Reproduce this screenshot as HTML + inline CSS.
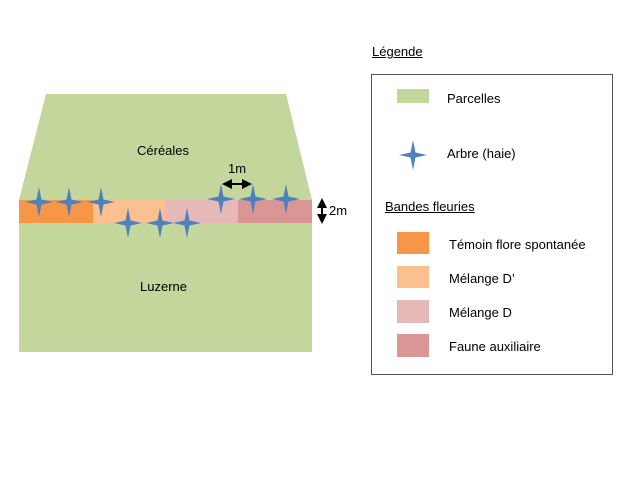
<html><body style="margin:0;width:640px;height:480px;background:#fff;position:relative;font-family:'Liberation Sans',sans-serif;">
<svg width="640" height="480" style="position:absolute;left:0;top:0">
<defs>
<path id="s" d="M0,-15 L2.5,-2.5 L14,0 L2.5,2.5 L0,15 L-2.5,2.5 L-14,0 L-2.5,-2.5Z" fill="#4f81bd"/>
<marker id="a" viewBox="0 0 10 10" refX="8" refY="5" markerWidth="5" markerHeight="5" orient="auto-start-reverse"><path d="M0,0L10,5L0,10Z" fill="#000"/></marker>
</defs>
<polygon points="46,94 286,94 312,200 19,200" fill="#c3d69b"/>
<rect x="19" y="223" width="293" height="129" fill="#c3d69b"/>
<rect x="19" y="200" width="74" height="23" fill="#f79646"/>
<rect x="93" y="200" width="72" height="23" fill="#fac090"/>
<rect x="165" y="200" width="73" height="23" fill="#e6b9b8"/>
<rect x="238" y="200" width="74" height="23" fill="#d99694"/>
<g>
<use href="#s" x="39" y="202"/><use href="#s" x="69" y="202"/><use href="#s" x="101" y="202"/>
<use href="#s" x="221" y="199"/><use href="#s" x="253" y="199"/><use href="#s" x="286" y="199"/>
<use href="#s" x="128" y="223"/><use href="#s" x="160" y="223"/><use href="#s" x="187" y="223"/>
</g>
<line x1="224" y1="184" x2="250" y2="184" stroke="#000" stroke-width="2" marker-start="url(#a)" marker-end="url(#a)"/>
<line x1="322" y1="200" x2="322" y2="222" stroke="#000" stroke-width="2" marker-start="url(#a)" marker-end="url(#a)"/>
<rect x="371.5" y="74.5" width="241" height="300" fill="none" stroke="#555"/>
<rect x="397" y="89" width="32" height="14" fill="#c3d69b"/>
<use href="#s" x="413" y="155"/>
<rect x="397" y="232" width="32" height="22" fill="#f79646"/>
<rect x="397" y="266" width="32" height="22" fill="#fac090"/>
<rect x="397" y="300" width="32" height="23" fill="#e6b9b8"/>
<rect x="397" y="334" width="32" height="23" fill="#d99694"/>
</svg>
<div style="position:absolute;font-size:13px;color:#000;">
<div style="position:absolute;left:137px;top:143px;white-space:nowrap">Céréales</div>
<div style="position:absolute;left:140px;top:279px;white-space:nowrap">Luzerne</div>
<div style="position:absolute;left:228px;top:161px;white-space:nowrap">1m</div>
<div style="position:absolute;left:329px;top:203px;white-space:nowrap">2m</div>
<div style="position:absolute;left:372px;top:44px;white-space:nowrap;text-decoration:underline">Légende</div>
<div style="position:absolute;left:447px;top:91px;white-space:nowrap">Parcelles</div>
<div style="position:absolute;left:447px;top:146px;white-space:nowrap">Arbre (haie)</div>
<div style="position:absolute;left:385px;top:199px;white-space:nowrap;text-decoration:underline">Bandes fleuries</div>
<div style="position:absolute;left:449px;top:237px;white-space:nowrap">Témoin flore spontanée</div>
<div style="position:absolute;left:449px;top:271px;white-space:nowrap">Mélange D’</div>
<div style="position:absolute;left:449px;top:305px;white-space:nowrap">Mélange D</div>
<div style="position:absolute;left:449px;top:339px;white-space:nowrap">Faune auxiliaire</div>
</div>
</body></html>
